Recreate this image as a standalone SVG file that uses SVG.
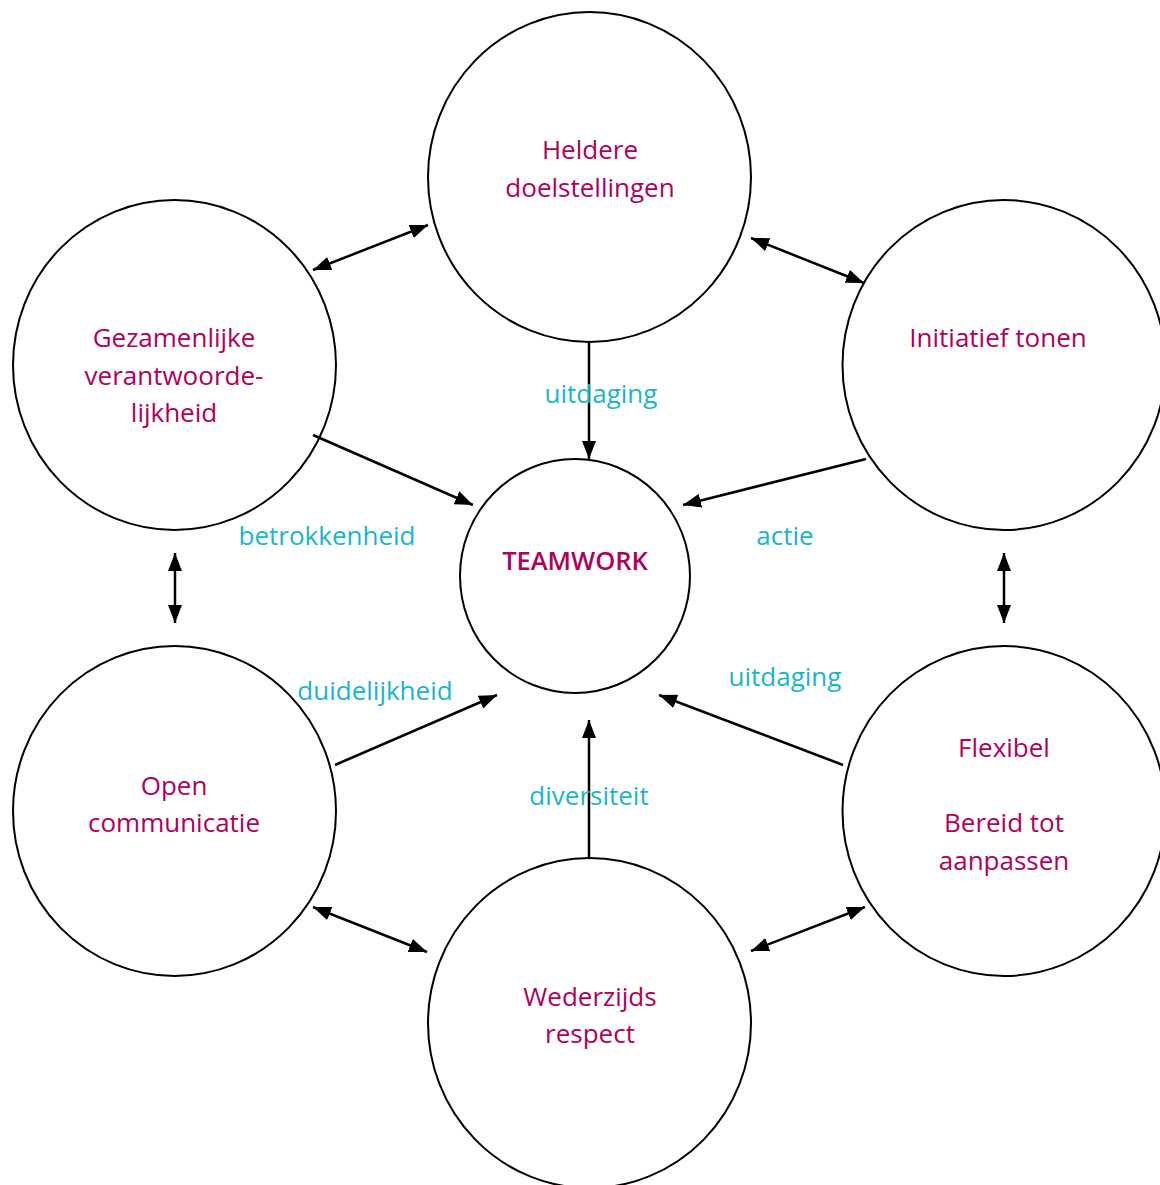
<svg xmlns="http://www.w3.org/2000/svg" width="1160" height="1185" viewBox="0 0 1160 1185">
<defs>
<marker id="ah" viewBox="0 0 18 14" refX="18" refY="7" markerWidth="18" markerHeight="14" markerUnits="userSpaceOnUse" orient="auto-start-reverse">
<path d="M0,0 L18,7 L0,14 z" fill="#000"/>
</marker>
<style>
.node{fill:#fff;stroke:#000;stroke-width:2}
.t{font-family:"Open Sans","Liberation Sans",sans-serif;font-size:26px;fill:#B0005A;text-anchor:middle}
.tb{font-weight:600;font-size:25.5px}
.l{font-family:"Open Sans","Liberation Sans",sans-serif;font-size:26px;fill:#1AB5C8;text-anchor:middle}
.c{stroke:#000;stroke-width:2.5;fill:none}
.one{marker-end:url(#ah)}
.two{marker-start:url(#ah);marker-end:url(#ah)}
</style>
</defs>
<rect width="1160" height="1185" fill="#fff"/>
<g id="n-top"><ellipse class="node" cx="589.5" cy="177" rx="161.5" ry="165"/><text class="t" x="590" y="159">Heldere</text><text class="t" x="590" y="197">doelstellingen</text></g>
<g id="n-lefttop"><ellipse class="node" cx="174.5" cy="365" rx="161.5" ry="165"/><text class="t" x="174" y="347">Gezamenlijke</text><text class="t" x="174" y="385">verantwoorde-</text><text class="t" x="174" y="422">lijkheid</text></g>
<g id="n-righttop"><ellipse class="node" cx="1004" cy="365" rx="161.5" ry="165"/><text class="t" x="998" y="347">Initiatief tonen</text></g>
<g id="n-leftbottom"><ellipse class="node" cx="174.5" cy="811" rx="161.5" ry="165"/><text class="t" x="174" y="795">Open</text><text class="t" x="174" y="832">communicatie</text></g>
<g id="n-rightbottom"><ellipse class="node" cx="1004" cy="811" rx="161.5" ry="165"/><text class="t" x="1004" y="757">Flexibel</text><text class="t" x="1004" y="832">Bereid tot</text><text class="t" x="1004" y="870">aanpassen</text></g>
<g id="n-bottom"><ellipse class="node" cx="589.5" cy="1023" rx="161.5" ry="165"/><text class="t" x="590" y="1006">Wederzijds</text><text class="t" x="590" y="1043">respect</text></g>
<g id="n-center"><ellipse class="node" cx="575" cy="576" rx="115" ry="117"/><text class="t tb" x="575" y="570">TEAMWORK</text></g>
<g id="connectors">
<line class="c two" x1="313" y1="270" x2="428" y2="225"/>
<line class="c two" x1="751" y1="238" x2="864" y2="283"/>
<line class="c two" x1="175" y1="553" x2="175" y2="623"/>
<line class="c two" x1="1004" y1="553" x2="1004" y2="623"/>
<line class="c two" x1="313" y1="907" x2="427" y2="952"/>
<line class="c two" x1="751" y1="951" x2="865" y2="907"/>
<line class="c one" x1="589" y1="342" x2="589" y2="459"/>
<line class="c one" x1="313" y1="435" x2="473" y2="505"/>
<line class="c one" x1="866" y1="459" x2="683" y2="505"/>
<line class="c one" x1="335" y1="765" x2="497" y2="695"/>
<line class="c one" x1="843" y1="765" x2="659" y2="695"/>
<line class="c one" x1="589" y1="858" x2="589" y2="720"/>
</g>
<g id="labels">
<text class="l" x="601" y="403">uitdaging</text>
<text class="l" x="327" y="545">betrokkenheid</text>
<text class="l" x="785" y="545">actie</text>
<text class="l" x="375" y="700">duidelijkheid</text>
<text class="l" x="785" y="686">uitdaging</text>
<text class="l" x="589" y="805">diversiteit</text>
</g>
</svg>
